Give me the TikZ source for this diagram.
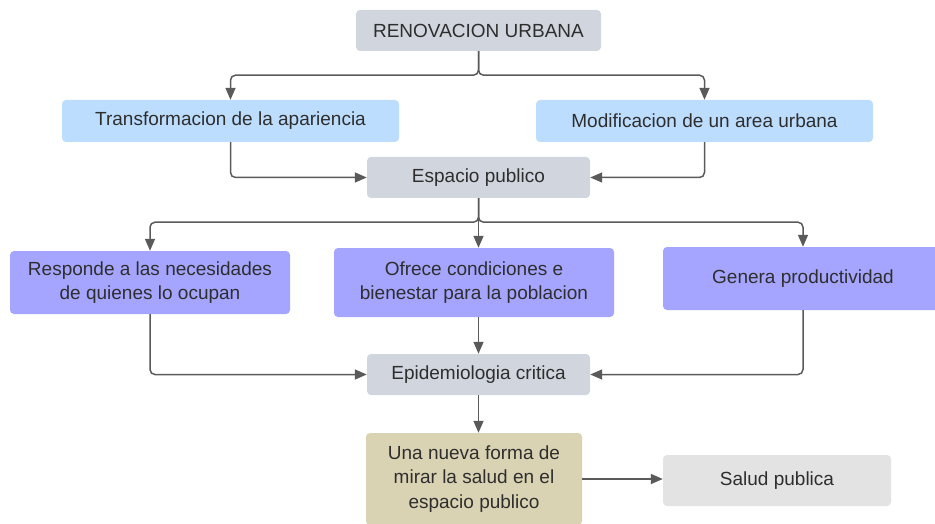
\documentclass[tikz,border=0pt]{standalone}
\usepackage{fontspec}
\setmainfont{Liberation Sans}
\usetikzlibrary{arrows.meta}
\definecolor{cgraybl}{HTML}{D1D6DE}
\definecolor{clblue}{HTML}{BDDDFF}
\definecolor{cpurple}{HTML}{A5A5FF}
\definecolor{ctan}{HTML}{D9D3B3}
\definecolor{clgray}{HTML}{E3E3E3}
\definecolor{ctext}{HTML}{2E2E2E}
\definecolor{cline}{HTML}{5A5A5A}
\tikzset{
  box/.style={rounded corners=4pt, inner sep=0pt, align=center, text=ctext,
    font=\fontsize{19}{24.8}\selectfont},
  conn/.style={draw=cline, line width=1.5pt, rounded corners=5pt,
    -{Triangle[length=12pt,width=10pt]}},
}
\begin{document}
\begin{tikzpicture}[x=1pt,y=-1pt]
\useasboundingbox (0,0) rectangle (935,524);
\node[box, fill=cgraybl, minimum width=245, minimum height=41] (ren) at (478.5,30.5) {RENOVACION URBANA};
\node[box, fill=clblue, minimum width=337, minimum height=42] (tra) at (230.5,121) {Transformacion de la apariencia};
\node[box, fill=clblue, minimum width=337, minimum height=42] (mod) at (704.5,121) {Modificacion de un area urbana};
\node[box, fill=cgraybl, minimum width=223, minimum height=41] (esp) at (478.5,177.5) {Espacio publico};
\node[box, fill=cpurple, minimum width=280, minimum height=63] (res) at (150,282.5) {Responde a las necesidades\\de quienes lo ocupan};
\node[box, fill=cpurple, minimum width=280, minimum height=69] (ofr) at (474,282.5) {Ofrece condiciones e\\bienestar para la poblacion};
\node[box, fill=cpurple, minimum width=280, minimum height=63] (gen) at (803,278.5) {Genera productividad};
\node[box, fill=cgraybl, minimum width=223, minimum height=41] (epi) at (478.5,374.5) {Epidemiologia critica};
\node[box, fill=ctan, minimum width=216, minimum height=92] (una) at (474,479) {Una nueva forma de\\mirar la salud en el\\espacio publico};
\node[box, fill=clgray, minimum width=228, minimum height=51] (sal) at (777,480.5) {Salud publica};

\draw[conn] (ren.south) -- ++(0,24) -| (tra.north);
\draw[conn] (ren.south) -- ++(0,24) -| (mod.north);
\draw[conn] (tra.south) |- (esp.west);
\draw[conn] (mod.south) |- (esp.east);
\draw[conn] (esp.south) -- ++(0,24) -| (res.north);
\draw[conn] (esp.south) -- (esp.south |- ofr.north);
\draw[conn] (esp.south) -- ++(0,24) -| (gen.north);
\draw[conn] (res.south) |- (epi.west);
\draw[conn] (ofr.south -| epi.north) -- (epi.north);
\draw[conn] (gen.south) |- (epi.east);
\draw[conn] (epi.south) -- (epi.south |- una.north);
\draw[conn] (una.east) -- (una.east -| sal.west);
\end{tikzpicture}
\end{document}
